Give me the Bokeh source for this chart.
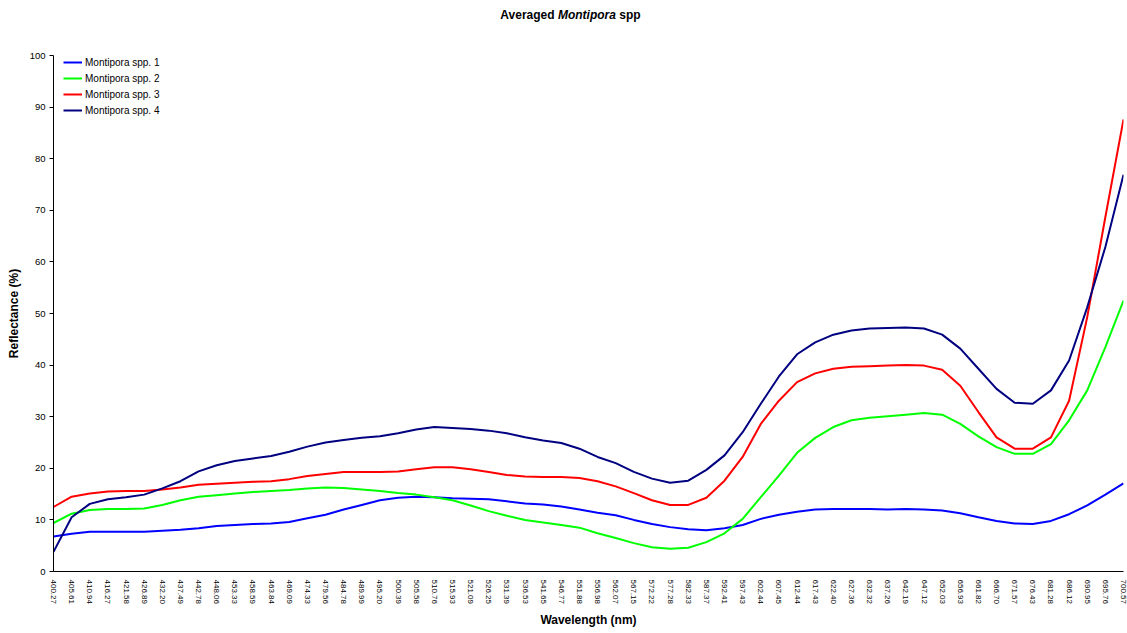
from bokeh.plotting import figure
from bokeh.models import Range1d, FixedTicker, Legend, LegendItem, Div
from bokeh.layouts import column
from bokeh.embed import file_html
from bokeh.resources import INLINE

# ---------------- data ----------------
wavelengths = ["400.27", "405.61", "410.94", "416.27", "421.58", "426.89", "432.20", "437.49",
               "442.78", "448.06", "453.33", "458.59", "463.84", "469.09", "474.33", "479.56",
               "484.78", "489.99", "495.20", "500.39", "505.58", "510.76", "515.93", "521.09",
               "526.25", "531.39", "536.53", "541.65", "546.77", "551.88", "556.98", "562.07",
               "567.15", "572.22", "577.28", "582.33", "587.37", "592.41", "597.43", "602.44",
               "607.45", "612.44", "617.43", "622.40", "627.36", "632.32", "637.26", "642.19",
               "647.12", "652.03", "656.93", "661.82", "666.70", "671.57", "676.43", "681.28",
               "686.12", "690.95", "695.76", "700.57"]

spp1 = [6.8, 7.3, 7.7, 7.7, 7.7, 7.7, 7.9, 8.1, 8.4, 8.8, 9.0, 9.2, 9.3, 9.6, 10.3, 11.0,
        12.0, 12.9, 13.8, 14.3, 14.5, 14.4, 14.2, 14.1, 14.0, 13.6, 13.2, 13.0, 12.6, 12.0,
        11.4, 10.9, 10.0, 9.2, 8.6, 8.2, 8.0, 8.4, 9.0, 10.2, 11.0, 11.6, 12.0, 12.1, 12.1,
        12.1, 12.0, 12.1, 12.0, 11.8, 11.3, 10.5, 9.8, 9.3, 9.2, 9.8, 11.1, 12.8, 14.9, 17.1]

spp2 = [9.4, 11.2, 11.9, 12.1, 12.1, 12.2, 12.9, 13.8, 14.5, 14.8, 15.1, 15.4, 15.6, 15.8, 16.1, 16.3,
        16.2, 15.9, 15.6, 15.2, 14.9, 14.4, 13.8, 12.8, 11.7, 10.8, 10.0, 9.5, 9.0, 8.5,
        7.4, 6.5, 5.5, 4.7, 4.4, 4.6, 5.7, 7.4, 10.2, 14.4, 18.6, 23.0, 25.9, 28.0, 29.3,
        29.8, 30.1, 30.4, 30.7, 30.4, 28.6, 26.2, 24.1, 22.8, 22.8, 24.7, 29.3, 35.1, 43.5, 52.5]

spp3 = [12.5, 14.5, 15.1, 15.5, 15.6, 15.6, 15.9, 16.3, 16.8, 17.0, 17.2, 17.4, 17.5, 17.9, 18.5, 18.9,
        19.3, 19.3, 19.3, 19.4, 19.8, 20.2, 20.2, 19.8, 19.3, 18.7, 18.4, 18.3, 18.3, 18.1,
        17.5, 16.5, 15.2, 13.8, 12.9, 12.9, 14.3, 17.6, 22.2, 28.6, 33.1, 36.7, 38.4, 39.3, 39.7,
        39.8, 39.9, 40.0, 39.9, 39.1, 36.0, 30.9, 26.0, 23.8, 23.8, 26.0, 33.1, 49.3, 68.7, 87.6]

spp4 = [3.8, 10.5, 13.1, 14.0, 14.4, 14.9, 16.1, 17.5, 19.4, 20.6, 21.4, 21.9, 22.4, 23.2, 24.2, 25.0,
        25.5, 25.9, 26.2, 26.8, 27.5, 28.0, 27.8, 27.6, 27.3, 26.8, 26.0, 25.4, 24.9, 23.8,
        22.2, 21.0, 19.3, 18.0, 17.2, 17.6, 19.7, 22.5, 27.0, 32.5, 37.8, 42.1, 44.4, 45.9, 46.7,
        47.1, 47.2, 47.3, 47.1, 45.9, 43.2, 39.3, 35.4, 32.7, 32.5, 35.1, 40.9, 51.2, 62.9, 76.9]

series_names = ["Montipora spp. 1", "Montipora spp. 2", "Montipora spp. 3", "Montipora spp. 4"]
series_colors = ["#0000FF", "#00FF00", "#FF0000", "#000080"]
y_ticks = [0, 10, 20, 30, 40, 50, 60, 70, 80, 90, 100]

x_idx = list(range(len(wavelengths)))
FONT = "Liberation Sans"

title_div = Div(text="<b>Averaged <i>Montipora</i> spp</b>", width=1127, height=30,
                styles={"text-align": "center", "font-family": FONT, "font-size": "12px",
                        "line-height": "30px", "color": "#000000", "text-indent": "14px",
                        "margin": "0", "padding": "0"})

p = figure(width=1127, height=603, output_backend="svg", toolbar_location=None,
           title=None,
           x_range=Range1d(0, len(wavelengths) - 1), y_range=Range1d(0, 100),
           min_border_left=53, min_border_right=4, min_border_top=25, min_border_bottom=62)

p.outline_line_color = None
p.xgrid.visible = False
p.ygrid.visible = False
p.background_fill_color = "white"
p.border_fill_color = "white"

renderers = []
for ys, col in zip([spp1, spp2, spp3, spp4], series_colors):
    r = p.line(x_idx, ys, line_color=col, line_width=2)
    renderers.append(r)

legend = Legend(items=[LegendItem(label=n, renderers=[r]) for n, r in zip(series_names, renderers)],
                location=(10, 453), orientation="vertical")
legend.border_line_color = None
legend.background_fill_alpha = 0
legend.padding = 0
legend.margin = 0
legend.spacing = 0
legend.glyph_width = 19
legend.glyph_height = 16
legend.label_height = 16
legend.label_standoff = 3
legend.label_text_font = FONT
legend.label_text_font_size = "10px"
legend.label_text_color = "#000000"
p.add_layout(legend)

# x axis
xa = p.xaxis[0]
xa.ticker = FixedTicker(ticks=x_idx)
xa.major_label_overrides = {i: w for i, w in zip(x_idx, wavelengths)}
xa.major_label_orientation = "vertical"
xa.major_label_text_font = FONT
xa.major_label_text_font_size = "8px"
xa.major_label_text_color = "#000000"
xa.major_tick_out = 0
xa.major_tick_in = 0
xa.minor_tick_line_color = None
xa.major_label_standoff = 8
xa.axis_line_color = "#000000"
xa.axis_label = "Wavelength (nm)"
xa.axis_label_text_font = FONT
xa.axis_label_text_font_style = "bold"
xa.axis_label_text_font_size = "12px"
xa.axis_label_text_color = "#000000"
xa.axis_label_standoff = 6

# y axis
ya = p.yaxis[0]
ya.ticker = FixedTicker(ticks=y_ticks)
ya.major_label_text_font = FONT
ya.major_label_text_font_size = "9.5px"
ya.major_label_text_color = "#000000"
ya.major_tick_out = 4
ya.major_tick_in = 0
ya.major_tick_line_color = "#000000"
ya.minor_tick_line_color = None
ya.major_label_standoff = 4
ya.axis_line_color = "#000000"
ya.axis_label = "Reflectance (%)"
ya.axis_label_text_font = FONT
ya.axis_label_text_font_style = "bold"
ya.axis_label_text_font_size = "12px"
ya.axis_label_text_color = "#000000"
ya.axis_label_standoff = 6

layout = column(title_div, p, spacing=0)

open("out.html", "w").write(file_html(layout, INLINE))
